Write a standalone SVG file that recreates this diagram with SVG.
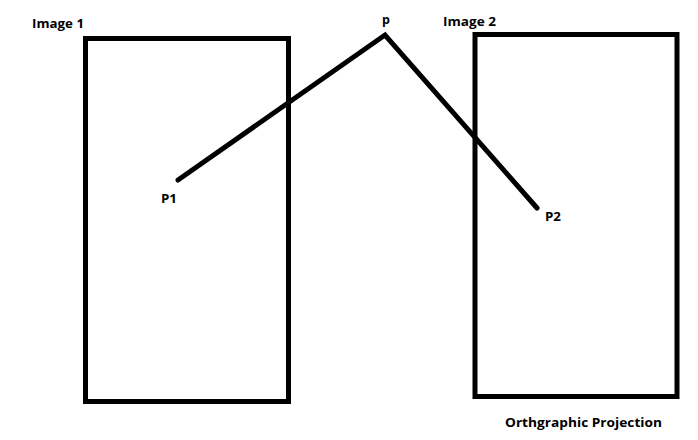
<svg xmlns="http://www.w3.org/2000/svg" width="698" height="440" viewBox="0 0 698 440">
<style>
.box{fill:none;stroke:#000;stroke-width:5}
.ray{fill:none;stroke:#000;stroke-width:5;stroke-linejoin:miter;stroke-linecap:round}
text{font-family:"Open Sans","Liberation Sans",sans-serif;font-weight:bold;font-size:12.5px;fill:#000}
</style>
<rect width="698" height="440" fill="#fff"/>
<g id="image1">
<rect class="box" x="85.5" y="38.5" width="203" height="363"/>
<text x="32" y="28" textLength="52" lengthAdjust="spacingAndGlyphs">Image 1</text>
</g>
<g id="image2">
<rect class="box" x="475" y="34.5" width="202" height="362"/>
<text x="443" y="26" textLength="53" lengthAdjust="spacingAndGlyphs">Image 2</text>
</g>
<g id="point-p1"><text x="161" y="203" textLength="16" lengthAdjust="spacingAndGlyphs">P1</text></g>
<g id="point-p"><text x="382" y="24">p</text></g>
<g id="point-p2"><text x="545" y="221" textLength="16" lengthAdjust="spacingAndGlyphs">P2</text></g>
<g id="connectors">
<polyline class="ray" points="178,180 385,35 537,208"/>
</g>
<g id="caption"><text x="505" y="427" textLength="157" lengthAdjust="spacingAndGlyphs">Orthgraphic Projection</text></g>
</svg>
